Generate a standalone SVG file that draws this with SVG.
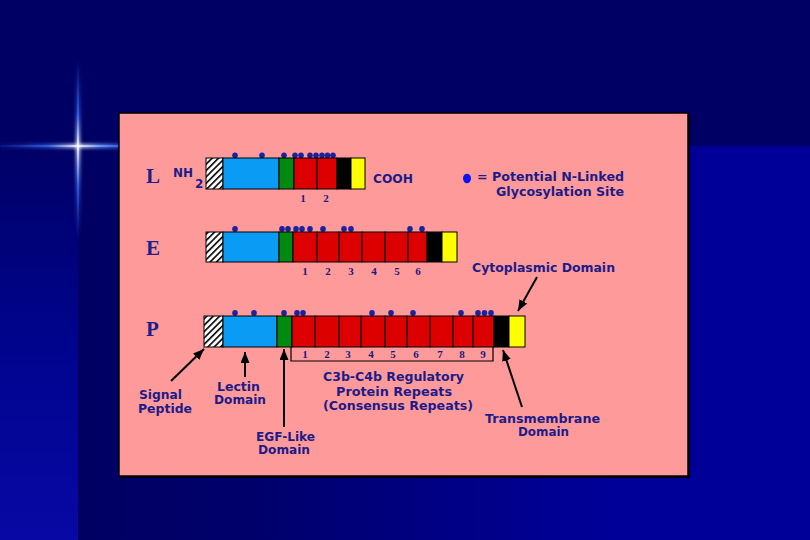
<svg xmlns="http://www.w3.org/2000/svg" width="810" height="540" viewBox="0 0 810 540">
<defs>
<linearGradient id="bgMain" x1="78" y1="0" x2="600" y2="0" gradientUnits="userSpaceOnUse">
<stop offset="0" stop-color="#000062"/><stop offset="0.35" stop-color="#00006c"/><stop offset="1" stop-color="#000098"/>
</linearGradient>
<linearGradient id="bgLeft" x1="0" y1="146" x2="0" y2="540" gradientUnits="userSpaceOnUse">
<stop offset="0" stop-color="#000066"/><stop offset="0.5" stop-color="#00048c"/><stop offset="1" stop-color="#0808a4"/>
</linearGradient>
<linearGradient id="starH" x1="0" y1="0" x2="119" y2="0" gradientUnits="userSpaceOnUse">
<stop offset="0" stop-color="#2040c0" stop-opacity="0.2"/><stop offset="0.4" stop-color="#3a6cf0" stop-opacity="0.8"/><stop offset="0.655" stop-color="#ffffff"/><stop offset="0.85" stop-color="#6a9aff"/><stop offset="1" stop-color="#3a6cf0" stop-opacity="0.9"/>
</linearGradient>
<linearGradient id="starV" x1="0" y1="60" x2="0" y2="240" gradientUnits="userSpaceOnUse">
<stop offset="0" stop-color="#2040c0" stop-opacity="0"/><stop offset="0.3" stop-color="#3a6cf0" stop-opacity="0.8"/><stop offset="0.478" stop-color="#ffffff"/><stop offset="0.7" stop-color="#3a6cf0" stop-opacity="0.8"/><stop offset="1" stop-color="#2040c0" stop-opacity="0"/>
</linearGradient>
<filter id="glow" x="-50%" y="-50%" width="200%" height="200%"><feGaussianBlur stdDeviation="1.5"/></filter>
<pattern id="hatch" width="4.5" height="4.5" patternUnits="userSpaceOnUse" patternTransform="rotate(45)">
<rect width="4.5" height="4.5" fill="#ffffff"/><rect x="0" y="0" width="1.6" height="4.5" fill="#000000"/>
</pattern>
<marker id="arr" markerUnits="userSpaceOnUse" markerWidth="12" markerHeight="10" refX="11" refY="4.5" orient="auto">
<path d="M0,0 L11,4.5 L0,9 z" fill="#000"/>
</marker>
<style>
.seg{stroke:#000;stroke-width:1}
.hat{fill:url(#hatch)}
.blu{fill:#0a9cf5}
.grn{fill:#008a10}
.red{fill:#dd0000}
.blk{fill:#000}
.yel{fill:#ffff00}
.dot{fill:#1a22a0}
.lbl{font-family:"DejaVu Sans",sans-serif;font-weight:bold;font-size:12px;fill:#1c1c88}
.num{font-family:"Liberation Serif",serif;font-weight:bold;font-size:11px;fill:#1a1a7e;text-anchor:middle}
.row{font-family:"Liberation Serif",serif;font-weight:bold;font-size:21px;fill:#1e1e8c}
.con{stroke:#000;stroke-width:2;fill:none;marker-end:url(#arr)}
</style>
</defs>

<g id="background">
<rect x="0" y="0" width="810" height="540" fill="#000064"/>
<rect x="78" y="146" width="732" height="394" fill="url(#bgMain)"/>
<rect x="0" y="146" width="78" height="394" fill="url(#bgLeft)"/>
<g filter="url(#glow)">
<rect x="0" y="143.5" width="119" height="5" fill="url(#starH)" opacity="0.7"/>
<rect x="75.5" y="60" width="5" height="180" fill="url(#starV)" opacity="0.7"/>
</g>
<rect x="0" y="145.2" width="119" height="1.6" fill="url(#starH)"/>
<rect x="77.2" y="60" width="1.6" height="180" fill="url(#starV)"/>
</g>

<g id="panel">
<rect x="121" y="115" width="569" height="363" fill="#000"/>
<rect x="119" y="113" width="569" height="363" fill="#ff9a9a" stroke="#000" stroke-width="1.5"/>
</g>

<g id="row-L">
<text class="row" x="146" y="183">L</text>
<text class="lbl" x="173" y="177" textLength="20" lengthAdjust="spacingAndGlyphs">NH</text>
<text class="lbl" x="195" y="188">2</text>
<g class="dot">
<ellipse cx="235" cy="155.3" rx="2.8" ry="2.9"/><ellipse cx="262" cy="155.3" rx="2.8" ry="2.9"/><ellipse cx="284" cy="155.3" rx="2.8" ry="2.9"/><ellipse cx="295" cy="155.3" rx="2.8" ry="2.9"/><ellipse cx="301" cy="155.3" rx="2.8" ry="2.9"/><ellipse cx="310" cy="155.3" rx="2.8" ry="2.9"/><ellipse cx="316" cy="155.3" rx="2.8" ry="2.9"/><ellipse cx="322" cy="155.3" rx="2.8" ry="2.9"/><ellipse cx="327.5" cy="155.3" rx="2.8" ry="2.9"/><ellipse cx="333" cy="155.3" rx="2.8" ry="2.9"/>
</g>
<rect class="seg hat" x="206" y="158" width="17" height="31"/>
<rect class="seg blu" x="223" y="158" width="56" height="31"/>
<rect class="seg grn" x="279" y="158" width="15" height="31"/>
<rect class="seg red" x="294" y="158" width="23" height="31"/>
<rect class="seg red" x="317" y="158" width="20" height="31"/>
<rect class="seg blk" x="337" y="158" width="14" height="31"/>
<rect class="seg yel" x="351" y="158" width="14" height="31"/>
<text class="num" x="303" y="202">1</text><text class="num" x="326" y="202">2</text>
<text class="lbl" x="373" y="183" font-size="13" textLength="40" lengthAdjust="spacingAndGlyphs">COOH</text>
</g>

<g id="row-E">
<text class="row" x="146" y="255">E</text>
<g class="dot">
<ellipse cx="235" cy="229" rx="2.8" ry="2.9"/><ellipse cx="282" cy="229" rx="2.8" ry="2.9"/><ellipse cx="288" cy="229" rx="2.8" ry="2.9"/><ellipse cx="296" cy="229" rx="2.8" ry="2.9"/><ellipse cx="302" cy="229" rx="2.8" ry="2.9"/><ellipse cx="310" cy="229" rx="2.8" ry="2.9"/><ellipse cx="323" cy="229" rx="2.8" ry="2.9"/><ellipse cx="344" cy="229" rx="2.8" ry="2.9"/><ellipse cx="351" cy="229" rx="2.8" ry="2.9"/><ellipse cx="410" cy="229" rx="2.8" ry="2.9"/><ellipse cx="422" cy="229" rx="2.8" ry="2.9"/>
</g>
<rect class="seg hat" x="206" y="232" width="17" height="30"/>
<rect class="seg blu" x="223" y="232" width="56" height="30"/>
<rect class="seg grn" x="279" y="232" width="14" height="30"/>
<rect class="seg red" x="293" y="232" width="24" height="30"/>
<rect class="seg red" x="317" y="232" width="22" height="30"/>
<rect class="seg red" x="339" y="232" width="23" height="30"/>
<rect class="seg red" x="362" y="232" width="23" height="30"/>
<rect class="seg red" x="385" y="232" width="23" height="30"/>
<rect class="seg red" x="408" y="232" width="19" height="30"/>
<rect class="seg blk" x="427" y="232" width="15" height="30"/>
<rect class="seg yel" x="442" y="232" width="15" height="30"/>
<text class="num" x="305" y="275">1</text><text class="num" x="328" y="275">2</text><text class="num" x="351" y="275">3</text><text class="num" x="374" y="275">4</text><text class="num" x="397" y="275">5</text><text class="num" x="418" y="275">6</text>
</g>

<g id="row-P">
<text class="row" x="146" y="336">P</text>
<g class="dot">
<ellipse cx="235" cy="313" rx="2.8" ry="2.9"/><ellipse cx="254" cy="313" rx="2.8" ry="2.9"/><ellipse cx="284" cy="313" rx="2.8" ry="2.9"/><ellipse cx="297" cy="313" rx="2.8" ry="2.9"/><ellipse cx="303" cy="313" rx="2.8" ry="2.9"/><ellipse cx="372" cy="313" rx="2.8" ry="2.9"/><ellipse cx="391" cy="313" rx="2.8" ry="2.9"/><ellipse cx="413" cy="313" rx="2.8" ry="2.9"/><ellipse cx="461" cy="313" rx="2.8" ry="2.9"/><ellipse cx="478" cy="313" rx="2.8" ry="2.9"/><ellipse cx="484.5" cy="313" rx="2.8" ry="2.9"/><ellipse cx="491" cy="313" rx="2.8" ry="2.9"/>
</g>
<rect class="seg hat" x="204" y="316" width="19" height="31"/>
<rect class="seg blu" x="223" y="316" width="54" height="31"/>
<rect class="seg grn" x="277" y="316" width="15" height="31"/>
<rect class="seg red" x="292" y="316" width="23" height="31"/>
<rect class="seg red" x="315" y="316" width="24" height="31"/>
<rect class="seg red" x="339" y="316" width="22" height="31"/>
<rect class="seg red" x="361" y="316" width="24" height="31"/>
<rect class="seg red" x="385" y="316" width="22" height="31"/>
<rect class="seg red" x="407" y="316" width="23" height="31"/>
<rect class="seg red" x="430" y="316" width="23" height="31"/>
<rect class="seg red" x="453" y="316" width="20" height="31"/>
<rect class="seg red" x="473" y="316" width="21" height="31"/>
<rect class="seg blk" x="494" y="316" width="15" height="31"/>
<rect class="seg yel" x="509" y="316" width="16" height="31"/>
<path d="M291,347 V361 H493 V347" fill="none" stroke="#000" stroke-width="1.2"/>
<text class="num" x="305" y="358">1</text><text class="num" x="327" y="358">2</text><text class="num" x="348" y="358">3</text><text class="num" x="371" y="358">4</text><text class="num" x="393" y="358">5</text><text class="num" x="416" y="358">6</text><text class="num" x="440" y="358">7</text><text class="num" x="462" y="358">8</text><text class="num" x="483" y="358">9</text>
</g>

<g id="legend">
<ellipse cx="467" cy="178.5" rx="4" ry="4.8" fill="#0a14f0"/>
<text class="lbl" x="477" y="181" textLength="147" lengthAdjust="spacingAndGlyphs">= Potential N-Linked</text>
<text class="lbl" x="496" y="196" textLength="128" lengthAdjust="spacingAndGlyphs">Glycosylation Site</text>
</g>

<g id="label-signal">
<text class="lbl" x="139" y="399" textLength="43" lengthAdjust="spacingAndGlyphs">Signal</text>
<text class="lbl" x="138" y="413" textLength="54" lengthAdjust="spacingAndGlyphs">Peptide</text>
</g>
<g id="label-lectin">
<text class="lbl" x="217" y="391" textLength="43" lengthAdjust="spacingAndGlyphs">Lectin</text>
<text class="lbl" x="214" y="404" textLength="52" lengthAdjust="spacingAndGlyphs">Domain</text>
</g>
<g id="label-egf">
<text class="lbl" x="256" y="441" textLength="59" lengthAdjust="spacingAndGlyphs">EGF-Like</text>
<text class="lbl" x="258" y="454" textLength="52" lengthAdjust="spacingAndGlyphs">Domain</text>
</g>
<g id="label-repeats">
<text class="lbl" x="323" y="381" textLength="141" lengthAdjust="spacingAndGlyphs">C3b-C4b Regulatory</text>
<text class="lbl" x="336" y="396" textLength="116" lengthAdjust="spacingAndGlyphs">Protein Repeats</text>
<text class="lbl" x="323" y="410" textLength="150" lengthAdjust="spacingAndGlyphs">(Consensus Repeats)</text>
</g>
<g id="label-tm">
<text class="lbl" x="485" y="423" textLength="115" lengthAdjust="spacingAndGlyphs">Transmembrane</text>
<text class="lbl" x="518" y="436" textLength="51" lengthAdjust="spacingAndGlyphs">Domain</text>
</g>
<g id="label-cyto">
<text class="lbl" x="472" y="272" textLength="143" lengthAdjust="spacingAndGlyphs">Cytoplasmic Domain</text>
</g>

<g id="connectors">
<line class="con" x1="171" y1="381" x2="204" y2="349"/>
<line class="con" x1="245" y1="377" x2="245" y2="352"/>
<line class="con" x1="284" y1="427" x2="284" y2="349"/>
<line class="con" x1="522" y1="407" x2="503" y2="350"/>
<line class="con" x1="537" y1="277" x2="518" y2="311"/>
</g>
</svg>
